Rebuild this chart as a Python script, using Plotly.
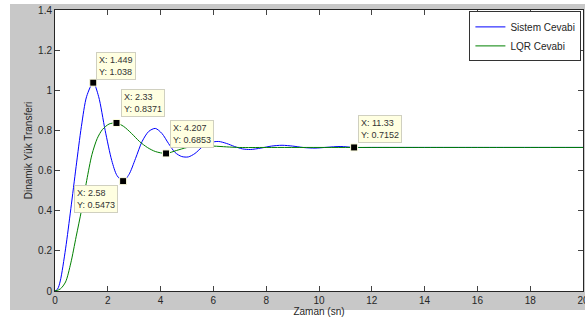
import plotly.graph_objects as go

# Sistem Cevabi (blue)
sys_t = [0, 0.1, 0.2, 0.4, 0.6, 0.8, 1.0, 1.2, 1.449, 1.65, 1.9, 2.15, 2.35, 2.58,
         2.8, 3.05, 3.3, 3.55, 3.8, 4.05, 4.3, 4.55, 4.8, 5.05, 5.3, 5.6, 5.9, 6.2,
         6.5, 6.8, 7.1, 7.4, 7.8, 8.2, 8.6, 9.0, 9.4, 9.85, 10.3, 10.8, 11.33, 12, 14, 16, 18, 20]
sys_y = [0, 0.01, 0.05, 0.21, 0.41, 0.62, 0.82, 0.97, 1.038, 0.97, 0.80, 0.65, 0.575, 0.5473,
         0.58, 0.66, 0.745, 0.795, 0.81, 0.785, 0.735, 0.69, 0.67, 0.668, 0.685, 0.72, 0.74, 0.745,
         0.735, 0.72, 0.708, 0.705, 0.712, 0.722, 0.726, 0.722, 0.715, 0.712, 0.716, 0.72, 0.7152,
         0.7152, 0.7152, 0.7152, 0.7152, 0.7152]

# LQR Cevabi (green)
lqr_t = [0, 0.2, 0.4, 0.6, 0.8, 1.0, 1.2, 1.4, 1.6, 1.8, 2.05, 2.33, 2.6, 2.9, 3.2, 3.5,
         3.8, 4.207, 4.6, 5.0, 5.5, 6.0, 6.5, 7.0, 8.0, 10, 12, 14, 16, 18, 20]
lqr_y = [0, 0.01, 0.045, 0.14, 0.27, 0.40, 0.55, 0.68, 0.76, 0.805, 0.832, 0.8371, 0.82, 0.785,
         0.745, 0.715, 0.695, 0.6853, 0.70, 0.715, 0.723, 0.722, 0.718, 0.715, 0.7152, 0.7152,
         0.7152, 0.7152, 0.7152, 0.7152, 0.7152]

# data tips
tip_x = [1.449, 2.33, 4.207, 2.58, 11.33]
tip_y = [1.038, 0.8371, 0.6853, 0.5473, 0.7152]
tip_text = ["X: 1.449<br>Y: 1.038", "X: 2.33<br>Y: 0.8371", "X: 4.207<br>Y: 0.6853",
            "X: 2.58<br>Y: 0.5473", "X: 11.33<br>Y: 0.7152"]

x_ticks = [0, 2, 4, 6, 8, 10, 12, 14, 16, 18, 20]
y_ticks = [0, 0.2, 0.4, 0.6, 0.8, 1.0, 1.2, 1.4]
y_tick_labels = ["0", "0.2", "0.4", "0.6", "0.8", "1", "1.2", "1.4"]

fig = go.Figure()
fig.add_trace(go.Scatter(x=sys_t, y=sys_y, mode="lines", name="Sistem Cevabi",
                         line=dict(color="#0000ff", width=1, shape="spline", smoothing=0.8)))
fig.add_trace(go.Scatter(x=lqr_t, y=lqr_y, mode="lines", name="LQR Cevabi",
                         line=dict(color="#008000", width=1, shape="spline", smoothing=0.8)))
fig.add_trace(go.Scatter(x=tip_x, y=tip_y, mode="markers", showlegend=False,
                         marker=dict(symbol="square", size=7, color="black",
                                     line=dict(color="#ffffe1", width=1))))

shifts = [(3, 3, "left", "bottom"), (4, 6, "left", "bottom"), (4, 5, "left", "bottom"),
          (-5, -4, "right", "top"), (4, 4, "left", "bottom")]
for x, y, t, (dx, dy, xa, ya) in zip(tip_x, tip_y, tip_text, shifts):
    fig.add_annotation(x=x, y=y, text=t, showarrow=False, xanchor=xa, yanchor=ya,
                       xshift=dx, yshift=dy, align="left",
                       font=dict(family="Liberation Sans, Arial", size=9, color="#333333"),
                       bgcolor="#ffffe1", bordercolor="#d0d0c0", borderwidth=1, borderpad=2)

fig.update_layout(
    width=585, height=320,
    margin=dict(l=55, r=2, t=10, b=29, autoexpand=False),
    paper_bgcolor="white", plot_bgcolor="white",
    font=dict(family="Liberation Sans, Arial", size=10, color="#262626"),
    showlegend=True,
    legend=dict(x=0.997, y=0.995, xanchor="right", yanchor="top",
                bordercolor="#333333", borderwidth=1, bgcolor="white", itemwidth=30,
                font=dict(size=10, color="#262626"), tracegroupgap=0),
    shapes=[
        dict(type="rect", xref="paper", yref="paper", x0=-0.0852, x1=1.01, y0=-0.0676, y1=1.0214,
             fillcolor="#c8c8c8", line=dict(width=0), layer="below"),
        dict(type="rect", xref="paper", yref="paper", x0=0, x1=1, y0=0, y1=1,
             fillcolor="white", line=dict(width=0), layer="below"),
    ],
)
fig.update_xaxes(range=[0, 20], tickvals=x_ticks, ticks="inside", ticklen=5,
                 showline=True, linecolor="#262626", linewidth=1, mirror="ticks",
                 showgrid=False, zeroline=False, tickfont=dict(size=10),
                 ticklabeloverflow="allow",
                 title=dict(text="Zaman (sn)", font=dict(size=10), standoff=2))
fig.update_yaxes(range=[0, 1.4], tickvals=y_ticks, ticktext=y_tick_labels, ticks="inside",
                 ticklen=5, showline=True, linecolor="#262626", linewidth=1, mirror="ticks",
                 showgrid=False, zeroline=False, tickfont=dict(size=10),
                 title=dict(text="Dinamik Yük Transferi", font=dict(size=10), standoff=3))

fig.write_html("out.html", config={"displayModeBar": False},
               post_script="document.body.style.margin='0';document.body.style.overflow='hidden';")
